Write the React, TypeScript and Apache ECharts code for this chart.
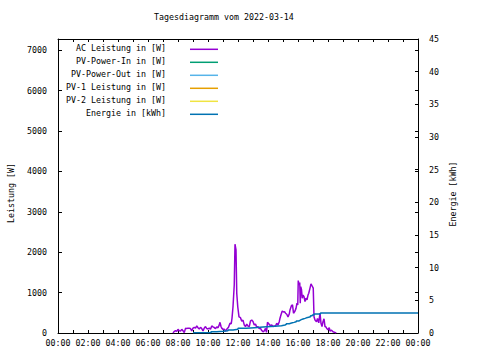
import React, { useEffect, useRef } from "react";
import * as echarts from "echarts";

const TITLE = "Tagesdiagramm vom 2022-03-14";
const FONT = "DejaVu Sans Mono";

// AC power (W), time as HH:MM
const acTimes = [
  "07:40","07:45","07:50","07:55","08:00","08:05","08:10","08:15","08:20","08:25",
  "08:30","08:35","08:40","08:45","08:50","08:55","09:00","09:05","09:10","09:15",
  "09:20","09:25","09:30","09:35","09:40","09:45","09:50","09:55","10:00","10:05",
  "10:10","10:15","10:20","10:25","10:30","10:35","10:40","10:45","10:48","10:52",
  "10:55","11:00","11:05","11:10","11:15","11:22","11:28","11:33","11:36","11:40",
  "11:45","11:48","11:52","11:55","11:59","12:04","12:10","12:15","12:20","12:25",
  "12:30","12:35","12:40","12:45","12:50","12:55","13:00","13:05","13:10","13:15",
  "13:20","13:25","13:30","13:35","13:40","13:45","13:50","13:54","13:58","14:04",
  "14:10","14:15","14:20","14:25","14:30","14:35","14:40","14:45","14:48","14:52",
  "14:57","15:02","15:06","15:10","15:15","15:20","15:25","15:28","15:34","15:38",
  "15:42","15:48","15:52","15:56","15:59","16:01","16:04","16:07","16:09","16:11",
  "16:14","16:17","16:20","16:24","16:28","16:32","16:36","16:40","16:43","16:48",
  "16:52","16:56","17:01","17:04","17:08","17:14","17:18","17:23","17:28","17:32",
  "17:36","17:40","17:44","17:48","17:52","17:55","18:00","18:05","18:08","18:14",
  "18:20","18:25","18:30","18:33"
];
const acValues = [
  0,40,55,40,90,55,50,90,55,10,
  115,110,120,115,110,50,120,140,120,175,
  130,100,140,110,50,120,160,110,100,120,
  95,175,150,135,110,150,130,200,265,160,
  120,90,95,50,90,140,240,230,365,650,
  1190,2200,2060,985,650,400,380,290,320,200,
  160,220,170,160,300,320,285,200,220,140,
  160,110,115,60,30,50,115,15,265,220,
  180,200,160,175,170,240,200,280,365,450,
  545,520,530,490,465,400,470,570,680,700,
  490,545,610,740,695,1300,1190,1250,740,1150,
  1070,860,940,900,780,860,820,940,985,1110,
  1215,1170,1110,400,320,280,360,250,490,240,
  160,280,350,160,150,110,80,130,50,70,
  30,20,10,0
];

// Cumulative energy (kWh)
const energyTimes = [
  "09:00","10:12","10:35","11:00","11:20","11:40","12:00","12:33","13:06","13:40",
  "14:26","14:54","15:08","15:13","15:25","15:34","15:44","15:53","16:03","16:08",
  "16:13","16:20","16:28","16:34","16:42","16:50","16:57","17:04","17:30","24:00"
];
const energyValues = [
  0.05,0.2,0.28,0.35,0.46,0.56,0.72,0.82,0.92,1.02,
  1.12,1.22,1.32,1.43,1.53,1.63,1.73,1.84,1.94,2.04,
  2.14,2.24,2.32,2.4,2.5,2.65,2.77,2.9,3.06,3.06
];

const seriesNames = [
  "AC Leistung in [W]",
  "PV-Power-In in [W]",
  "PV-Power-Out in [W]",
  "PV-1 Leistung in [W]",
  "PV-2 Leistung in [W]",
  "Energie in [kWh]",
];
const seriesColors = ["#9400d3", "#009e73", "#56b4e9", "#e69f00", "#f0e442", "#0072b2"];

const xTickLabels = ["00:00","02:00","04:00","06:00","08:00","10:00","12:00","14:00","16:00","18:00","20:00","22:00","00:00"];

const toMin = (t: string) => {
  const [h, m] = t.split(":").map(Number);
  return h * 60 + m;
};

export default function App() {
  const ref = useRef<HTMLDivElement>(null);
  useEffect(() => {
    if (!ref.current) return;
    const chart = echarts.init(ref.current, undefined, { renderer: "svg" });
    const txt = { fontFamily: FONT, fontSize: 8.3, color: "#000" };
    const line = { show: true, onZero: false, lineStyle: { color: "#000", width: 1 } };
    const tick = (len: number) => ({ show: true, inside: true, length: len, lineStyle: { color: "#000" } });
    const legendGraphics: any[] = [];
    seriesNames.forEach((n, i) => {
      const y = 49.3 + i * 13;
      legendGraphics.push({
        type: "text",
        x: 166,
        y: y - 1,
        style: { text: n, fill: "#000", font: `8.3px "${FONT}"`, textAlign: "right", textVerticalAlign: "middle" },
      });
      legendGraphics.push({
        type: "line",
        shape: { x1: 190, y1: y, x2: 218, y2: y },
        style: { stroke: seriesColors[i], lineWidth: 1.5 },
      });
    });
    const ac = acTimes.map((t, i) => [toMin(t), acValues[i]]);
    const en = energyTimes.map((t, i) => [toMin(t), energyValues[i]]);
    const option: any = {
      animation: false,
      backgroundColor: "#fff",
      title: {
        text: TITLE,
        left: 154,
        top: 13,
        padding: 0,
        textStyle: { ...txt, fontWeight: "normal" },
      },
      grid: { left: 58, right: 62, top: 39, bottom: 27, containLabel: false },
      xAxis: [
        {
          type: "value",
          min: 0,
          max: 1440,
          interval: 60,
          position: "bottom",
          axisLine: line,
          axisTick: tick(3),
          axisLabel: {
            ...txt,
            margin: 6,
            formatter: (v: number) => (v % 120 === 0 ? xTickLabels[v / 120] : ""),
          },
          splitLine: { show: false },
        },
        {
          type: "value",
          min: 0,
          max: 1440,
          interval: 60,
          position: "top",
          axisLine: line,
          axisTick: tick(3),
          axisLabel: { show: false },
          splitLine: { show: false },
        },
      ],
      yAxis: [
        {
          type: "value",
          min: 0,
          max: 7280,
          interval: 1000,
          position: "left",
          axisLine: line,
          axisTick: tick(4),
          axisLabel: { ...txt, margin: 11, formatter: (v: number) => (v % 1000 === 0 ? String(v) : "") },
          splitLine: { show: false },
        },
        {
          type: "value",
          min: 0,
          max: 45,
          interval: 5,
          position: "right",
          axisLine: line,
          axisTick: tick(3),
          axisLabel: { ...txt, margin: 11 },
          splitLine: { show: false },
        },
        {
          type: "value",
          min: 0,
          max: 7280,
          interval: 1000,
          position: "right",
          axisLine: { show: false, onZero: false },
          axisTick: tick(3),
          axisLabel: { show: false },
          splitLine: { show: false },
        },
      ],
      series: [
        {
          name: seriesNames[0],
          type: "line",
          data: ac,
          yAxisIndex: 0,
          symbol: "none",
          lineStyle: { color: seriesColors[0], width: 1.5 },
          z: 3,
        },
        ...[1, 2, 3, 4].map((i) => ({
          name: seriesNames[i],
          type: "line",
          data: [],
          yAxisIndex: 0,
          symbol: "none",
          lineStyle: { color: seriesColors[i], width: 1.5 },
        })),
        {
          name: seriesNames[5],
          type: "line",
          data: en,
          yAxisIndex: 1,
          step: "end",
          symbol: "none",
          lineStyle: { color: seriesColors[5], width: 1.5 },
          z: 4,
        },
      ],
      graphic: [
        ...legendGraphics,
        {
          type: "text",
          x: 11,
          y: 193,
          rotation: Math.PI / 2,
          style: { text: "Leistung [W]", fill: "#000", font: `8.3px "${FONT}"`, textAlign: "center", textVerticalAlign: "middle" },
        },
        {
          type: "text",
          x: 452.5,
          y: 194,
          rotation: Math.PI / 2,
          style: { text: "Energie [kWh]", fill: "#000", font: `8.3px "${FONT}"`, textAlign: "center", textVerticalAlign: "middle" },
        },
      ],
    };
    chart.setOption(option);
    return () => chart.dispose();
  }, []);
  return (
    <div
      ref={ref}
      style={{ position: "fixed", left: 0, top: 0, width: 480, height: 360, background: "#fff" }}
    />
  );
}
